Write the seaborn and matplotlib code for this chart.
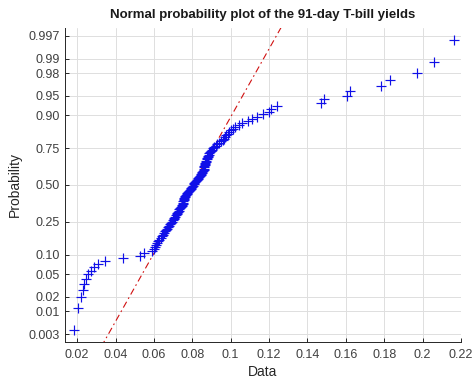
from statistics import NormalDist

import numpy as np
import pandas as pd
import matplotlib
matplotlib.use("Agg")
import matplotlib.pyplot as plt
import seaborn as sns

# 91-day T-bill yields (sorted sample, n = 130)
yields = [
    0.0183, 0.0204, 0.0222, 0.0233, 0.0238, 0.0245, 0.0257, 0.0273, 0.0290, 0.0308,
    0.0343, 0.0441, 0.0530, 0.0548, 0.0589, 0.0600, 0.0606, 0.0612, 0.0618, 0.0623,
    0.0629, 0.0635, 0.0642, 0.0649, 0.0655, 0.0659, 0.0663, 0.0668, 0.0672, 0.0677,
    0.0682, 0.0687, 0.0693, 0.0698, 0.0703, 0.0707, 0.0711, 0.0714, 0.0718, 0.0722,
    0.0726, 0.0729, 0.0733, 0.0737, 0.0742, 0.0746, 0.0749, 0.0750, 0.0752, 0.0754,
    0.0756, 0.0758, 0.0759, 0.0761, 0.0763, 0.0766, 0.0770, 0.0774, 0.0778, 0.0782,
    0.0786, 0.0791, 0.0795, 0.0799, 0.0803, 0.0807, 0.0811, 0.0816, 0.0820, 0.0824,
    0.0828, 0.0832, 0.0837, 0.0841, 0.0844, 0.0847, 0.0850, 0.0853, 0.0856, 0.0859,
    0.0861, 0.0862, 0.0863, 0.0865, 0.0866, 0.0868, 0.0871, 0.0873, 0.0876, 0.0879,
    0.0881, 0.0884, 0.0887, 0.0889, 0.0892, 0.0895, 0.0901, 0.0908, 0.0914, 0.0921,
    0.0931, 0.0941, 0.0951, 0.0959, 0.0965, 0.0971, 0.0977, 0.0984, 0.0990, 0.1000,
    0.1013, 0.1025, 0.1045, 0.1060, 0.1090, 0.1110, 0.1135, 0.1168, 0.1200, 0.1208,
    0.1243, 0.1469, 0.1486, 0.1606, 0.1622, 0.1782, 0.1831, 0.1969, 0.2057, 0.2162,
]

prob_ticks = [0.003, 0.01, 0.02, 0.05, 0.10, 0.25, 0.50, 0.75, 0.90, 0.95, 0.98, 0.99, 0.997]
prob_labels = ["0.003", "0.01", "0.02", "0.05", "0.10", "0.25", "0.50",
               "0.75", "0.90", "0.95", "0.98", "0.99", "0.997"]
x_ticks = [0.02, 0.04, 0.06, 0.08, 0.10, 0.12, 0.14, 0.16, 0.18, 0.20, 0.22]
x_labels = ["0.02", "0.04", "0.06", "0.08", "0.1", "0.12", "0.14",
            "0.16", "0.18", "0.2", "0.22"]

sns.set_style("ticks")
plt.rcParams["font.family"] = ["Liberation Sans", "DejaVu Sans"]

nd = NormalDist()
x = np.sort(np.asarray(yields, dtype=float))
n = len(x)
plot_pos = (np.arange(1, n + 1) - 0.5) / n
z = np.array([nd.inv_cdf(p) for p in plot_pos])
df = pd.DataFrame({"Data": x, "z": z})


def midpoint_percentile(v, q):
    """Percentile with the (i - 0.5)/n plotting-position rule."""
    pos = q * len(v) + 0.5          # 1-based position
    lo = int(np.floor(pos))
    frac = pos - lo
    lo = min(max(lo, 1), len(v))
    hi = min(lo + 1, len(v))
    return v[lo - 1] + frac * (v[hi - 1] - v[lo - 1])


q1 = midpoint_percentile(x, 0.25)
q3 = midpoint_percentile(x, 0.75)
z1, z3 = nd.inv_cdf(0.25), nd.inv_cdf(0.75)
slope = (z3 - z1) / (q3 - q1)
intercept = z1 - slope * q1

ref_full = pd.DataFrame({"Data": [x.min(), x.max()]})
ref_full["z"] = intercept + slope * ref_full["Data"]
ref_mid = pd.DataFrame({"Data": [q1, q3]})
ref_mid["z"] = intercept + slope * ref_mid["Data"]

fig = plt.figure(figsize=(4.76, 3.85), dpi=100)
ax = fig.add_axes([0.1366, 0.1117, 0.8319, 0.8156])

sns.lineplot(data=ref_full, x="Data", y="z", ax=ax, color="#d01010",
             linewidth=0.8, linestyle=(0, (6, 3, 1.5, 3)), zorder=2)
sns.lineplot(data=ref_mid, x="Data", y="z", ax=ax, color="#d01010",
             linewidth=0.8, zorder=2)
sns.scatterplot(data=df, x="Data", y="z", ax=ax, marker="+", color="#1010e8",
                s=46, linewidth=0.85, zorder=3)

zlim = nd.inv_cdf(0.25 / n)
ax.set_ylim(zlim, -zlim)
ax.set_xlim(0.0137, 0.2200)

ax.set_yticks([nd.inv_cdf(p) for p in prob_ticks])
ax.set_yticklabels(prob_labels)
ax.set_xticks(x_ticks)
ax.set_xticklabels(x_labels)

ax.grid(True, color="#dedede", linewidth=0.7)
ax.set_axisbelow(True)
for side in ("top", "right"):
    ax.spines[side].set_visible(False)
for side in ("left", "bottom"):
    ax.spines[side].set_color("#262626")
    ax.spines[side].set_linewidth(0.7)
ax.tick_params(direction="in", length=3, width=0.7, colors="#262626",
               labelsize=9, labelcolor="#404040")
ax.tick_params(axis="x", pad=5)

ax.set_title("Normal probability plot of the 91-day T-bill yields",
             fontsize=9.5, fontweight="bold", color="#1a1a1a", pad=7)
ax.set_xlabel("Data", fontsize=10, color="#262626", labelpad=3)
ax.set_ylabel("Probability", fontsize=10, color="#262626", labelpad=5)

fig.savefig("out.png", dpi=100)
